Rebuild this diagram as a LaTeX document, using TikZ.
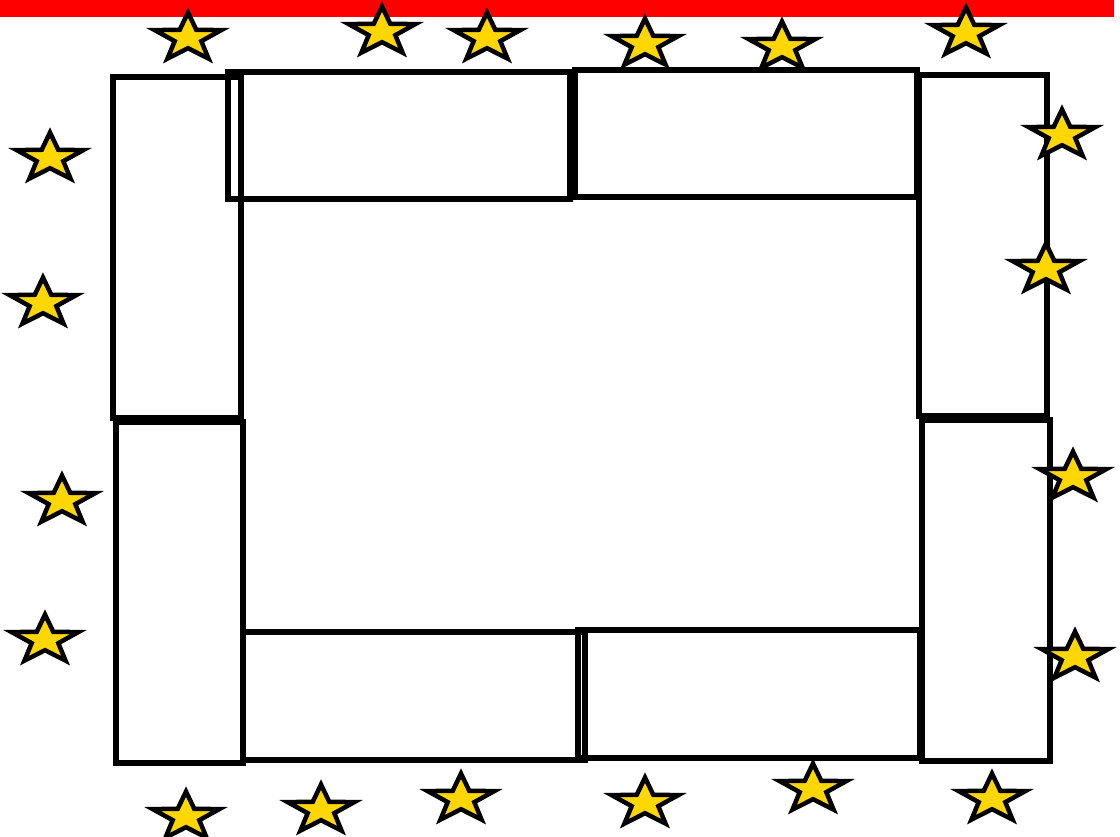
\documentclass[tikz,border=0pt]{standalone}
\definecolor{starfill}{RGB}{255,215,0}
\definecolor{barred}{RGB}{255,0,0}
\tikzset{
  seat/.style={draw=black, line width=5.2pt, line join=miter},
  starst/.style={draw=black, fill=starfill, line width=4.5pt, line join=miter},
  pics/gstar/.style={code={%
    \path[starst] (0,-1) \foreach \i in {0,...,4}{ -- ({-90+72*\i}:1) -- ({-54+72*\i}:0.4)} -- cycle;}},
  bigstar/.style={xscale=35, yscale=25.5}
}
\begin{document}
\begin{tikzpicture}[x=1pt, y=-1pt]
\useasboundingbox (0,0) rectangle (1120,836);
\fill[white] (0,0) rectangle (1120,836);
% red bar
\fill[barred] (0,0) rectangle (1114,17);
% seats
\draw[seat] (113,77) rectangle (241,418);
\draw[seat] (116,422) rectangle (243,763);
\draw[seat] (228,72) rectangle (570,199);
\draw[seat] (575,70) rectangle (917,197);
\draw[seat] (919,75) rectangle (1047,416);
\draw[seat] (922,420) rectangle (1050,761);
\draw[seat] (243,632) rectangle (585,760);
\draw[seat] (578,630) rectangle (920,758);
% stars top
\foreach \p in {(188,38),(382,32),(487,38),(645,44),(782,47),(966,33)}
  \pic[bigstar] at \p {gstar};
% stars left
\foreach \p in {(50,158),(43,303),(62,501),(45,640)}
  \pic[bigstar] at \p {gstar};
% stars right
\foreach \p in {(1062,135),(1046,269),(1073,477),(1075,657)}
  \pic[bigstar] at \p {gstar};
% stars bottom
\foreach \p in {(186,817),(321,810),(461,799),(645,803),(813,789),(992,799)}
  \pic[bigstar] at \p {gstar};
\end{tikzpicture}
\end{document}
